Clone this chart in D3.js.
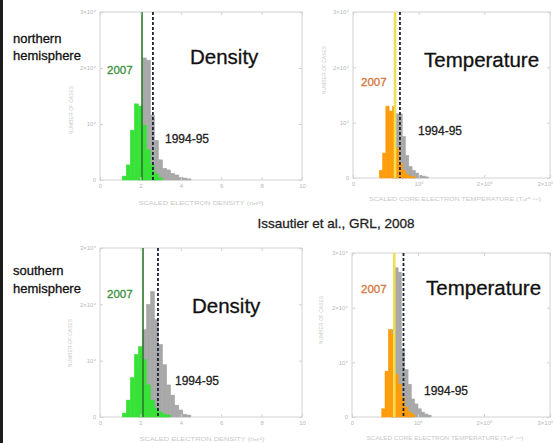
<!DOCTYPE html>
<html>
<head>
<meta charset="utf-8">
<title></title>
<script src="https://cdn.jsdelivr.net/npm/d3@7"></script>
<style>
    body { margin: 0; background: #fff; overflow: hidden; }
    svg { display: block; font-family: "Liberation Sans", Arial, sans-serif; }
</style>
</head>
<body>
<div id="chart"></div>
<script>
    // histogram bin starts
    var densityBins = [1.1, 1.3, 1.5, 1.7, 1.9, 2.1, 2.3, 2.5, 2.7, 2.9, 3.1, 3.3, 3.5, 3.7, 3.9, 4.1, 4.3];
    var densityBinWidth = 0.2;
    var tempBins = [40000, 45000, 50000, 55000, 60000, 65000, 70000, 75000, 80000, 85000, 90000, 95000, 100000, 105000, 110000, 115000];
    var tempBinWidth = 5000;

    // number of cases per bin
    var northDensity2007 = [700, 2700, 8900, 13600, 13200, 9800, 5400, 2700, 1100, 400, 0, 0, 0, 0, 0, 0, 0];
    var northDensity1994 = [0, 0, 0, 0, 2000, 21800, 21400, 11600, 7100, 3600, 2100, 1800, 1200, 900, 500, 350, 200];
    var southDensity2007 = [700, 3000, 7000, 11100, 12500, 10200, 5700, 3000, 1600, 900, 500, 350, 0, 0, 0, 0, 0];
    var southDensity1994 = [0, 0, 0, 0, 8400, 15500, 20000, 22300, 17300, 12900, 9300, 5700, 3900, 2100, 1250, 500, 350];

    var northTemp2007 = [1400, 4500, 13000, 12100, 12900, 5400, 2700, 1400, 700, 350, 200, 0, 0, 0, 0, 0];
    var northTemp1994 = [0, 0, 0, 0, 5000, 11600, 11600, 7500, 4100, 2100, 1400, 900, 500, 350, 200, 0];
    var southTemp2007 = [0, 1500, 8400, 16000, 15100, 7800, 6000, 3600, 1800, 900, 550, 0, 0, 0, 0, 0];
    var southTemp1994 = [0, 0, 0, 0, 16000, 27300, 26500, 12400, 8700, 6000, 3300, 2400, 1500, 900, 550, 350];

    // mean values [north, south]
    var densityMean2007 = [2.08, 2.13];
    var densityMean1994 = [2.62, 2.87];
    var tempMean2007 = [64000, 64000];
    var tempMean1994 = [71500, 78000];

    // axes
    var densityTicks = [0, 2, 4, 6, 8, 10];
    var densityTickLabels = ["0", "2", "4", "6", "8", "10"];
    var tempTicks = [0, 100000, 200000, 300000];
    var tempTickLabels = ["0", "10\u2075", "2\u00d710\u2075", "3\u00d710\u2075"];
    var countTicks = [0, 10000, 20000, 30000];
    var countTickLabels = ["0", "10\u2074", "2\u00d710\u2074", "3\u00d710\u2074"];

    var W = 553, H = 443;
    var svg = d3.select("#chart").append("svg").attr("width", W).attr("height", H);
    svg.append("rect").attr("width", W).attr("height", H).attr("fill", "#fff");
    svg.append("rect").attr("x", 0).attr("y", 0).attr("width", 3).attr("height", H).attr("fill", "#1c1c1c");

    function drawPanel(p)
    {
        var x = d3.scaleLinear().domain(p.domain).range([p.x0, p.x1]);
        var y = d3.scaleLinear().domain([0, 30000]).range([p.y1, p.y0]);
        var g = svg.append("g");

        // frame
        g.append("rect").attr("x", p.x0).attr("y", p.y0)
            .attr("width", p.x1 - p.x0).attr("height", p.y1 - p.y0)
            .attr("fill", "none").attr("stroke", "#d2d2d2").attr("stroke-width", 1);

        // 1994-95 behind, 2007 in front
        function bars(vals, color)
        {
            var gb = g.append("g");
            p.bins.forEach(function (b, i)
            {
                if (vals[i] > 0)
                    gb.append("rect").attr("x", x(b)).attr("y", y(vals[i]))
                        .attr("width", x(b + p.bw) - x(b)).attr("height", y(0) - y(vals[i]))
                        .attr("fill", color).attr("stroke", color).attr("stroke-width", 0.5);
            });
        }
        bars(p.old, "#a8a8a8");
        bars(p.cur, p.fill);

        // mean lines
        g.append("line").attr("x1", x(p.mCur)).attr("x2", x(p.mCur))
            .attr("y1", p.y0).attr("y2", p.y1)
            .attr("stroke", p.lineColor).attr("stroke-width", p.lineWidth);
        g.append("line").attr("x1", x(p.mOld)).attr("x2", x(p.mOld))
            .attr("y1", p.y0).attr("y2", p.y1)
            .attr("stroke", "#1e2238").attr("stroke-width", 1.8).attr("stroke-dasharray", "3,2");

        // axes
        var xa = d3.axisBottom(x).tickValues(p.ticks)
            .tickFormat(function (d, i) { return p.tickLabels[i]; })
            .tickSize(-3).tickPadding(4);
        var ya = d3.axisLeft(y).tickValues(countTicks)
            .tickFormat(function (d, i) { return countTickLabels[i]; })
            .tickSize(-3).tickPadding(4);
        var gx = g.append("g").attr("transform", "translate(0," + p.y1 + ")").call(xa);
        g.append("g").attr("transform", "translate(" + p.x0 + ",0)").call(ya);
        g.append("g").attr("transform", "translate(0," + p.y0 + ")")
            .call(d3.axisTop(x).tickValues(p.ticks).tickFormat("").tickSize(-3));
        g.append("g").attr("transform", "translate(" + p.x1 + ",0)")
            .call(d3.axisRight(y).tickValues(countTicks).tickFormat("").tickSize(-3));
        g.selectAll(".domain").remove();
        g.selectAll(".tick line").attr("stroke", "#d2d2d2");
        g.selectAll(".tick text").attr("fill", "#b8b8b8").style("font-size", "6px");
        // last label sits at the right edge of the picture
        if (p.x1 > 540) gx.selectAll(".tick:last-of-type text").attr("text-anchor", "end").attr("dx", 3);

        // axis titles
        g.append("text").attr("x", p.xtX).attr("y", p.xtY).attr("text-anchor", "middle")
            .attr("fill", "#c8c8c8").style("font-size", "5px")
            .attr("textLength", p.xtLen).attr("lengthAdjust", "spacingAndGlyphs")
            .text(p.xTitle);
        g.append("text").attr("transform", "translate(" + p.ytX + "," + p.ytY + ") rotate(-90)")
            .attr("text-anchor", "middle").attr("fill", "#c8c8c8").style("font-size", "5px")
            .text("NUMBER OF CASES");
    }

    var densityTitle = "SCALED ELECTRON DENSITY (n\u2091r\u00b2)";
    var tempTitle = "SCALED CORE ELECTRON TEMPERATURE (T\u2092r\u2070\u00b7\u2076\u2076)";

    drawPanel({ x0: 100, x1: 302, y0: 12, y1: 180, domain: [0, 10], bins: densityBins, bw: densityBinWidth,
        cur: northDensity2007, old: northDensity1994, mCur: densityMean2007[0], mOld: densityMean1994[0],
        fill: "#36e236", lineColor: "#2c7a2c", lineWidth: 1.6, ticks: densityTicks, tickLabels: densityTickLabels,
        xTitle: densityTitle, xtX: 201, xtY: 205, xtLen: 125, ytX: 73, ytY: 110 });
    drawPanel({ x0: 353, x1: 550, y0: 12, y1: 178, domain: [0, 300000], bins: tempBins, bw: tempBinWidth,
        cur: northTemp2007, old: northTemp1994, mCur: tempMean2007[0], mOld: tempMean1994[0],
        fill: "#ff9c0a", lineColor: "#f1df52", lineWidth: 2.6, ticks: tempTicks, tickLabels: tempTickLabels,
        xTitle: tempTitle, xtX: 455, xtY: 201, xtLen: 172, ytX: 326, ytY: 70 });
    drawPanel({ x0: 100, x1: 302, y0: 248, y1: 417, domain: [0, 10], bins: densityBins, bw: densityBinWidth,
        cur: southDensity2007, old: southDensity1994, mCur: densityMean2007[1], mOld: densityMean1994[1],
        fill: "#36e236", lineColor: "#2c7a2c", lineWidth: 1.6, ticks: densityTicks, tickLabels: densityTickLabels,
        xTitle: densityTitle, xtX: 202, xtY: 441, xtLen: 125, ytX: 72, ytY: 343 });
    drawPanel({ x0: 352, x1: 550, y0: 253, y1: 417, domain: [0, 300000], bins: tempBins, bw: tempBinWidth,
        cur: southTemp2007, old: southTemp1994, mCur: tempMean2007[1], mOld: tempMean1994[1],
        fill: "#ff9c0a", lineColor: "#f1df52", lineWidth: 2.6, ticks: tempTicks, tickLabels: tempTickLabels,
        xTitle: tempTitle, xtX: 445, xtY: 440, xtLen: 157, ytX: 323, ytY: 320 });

    // labels
    var labels = [
        { t: "northern", x: 13, y: 43, s: 13, c: "#111", a: "start" },
        { t: "hemisphere", x: 13, y: 60, s: 13, c: "#111", a: "start" },
        { t: "southern", x: 13, y: 275, s: 13, c: "#111", a: "start" },
        { t: "hemisphere", x: 13, y: 293, s: 13, c: "#111", a: "start" },
        { t: "Density", x: 190, y: 64, s: 20.5, c: "#111", a: "start" },
        { t: "Temperature", x: 424, y: 67, s: 20.5, c: "#111", a: "start" },
        { t: "Density", x: 192, y: 313, s: 20.5, c: "#111", a: "start" },
        { t: "Temperature", x: 426, y: 295, s: 20.5, c: "#111", a: "start" },
        { t: "2007", x: 107, y: 74, s: 11.5, c: "#3a8f3a", a: "start" },
        { t: "2007", x: 107, y: 298, s: 11.5, c: "#3a8f3a", a: "start" },
        { t: "2007", x: 361, y: 86, s: 11.5, c: "#d4753a", a: "start" },
        { t: "2007", x: 361, y: 293, s: 11.5, c: "#d4753a", a: "start" },
        { t: "1994-95", x: 165, y: 143, s: 12, c: "#222", a: "start" },
        { t: "1994-95", x: 175, y: 385, s: 12, c: "#222", a: "start" },
        { t: "1994-95", x: 418, y: 135, s: 12, c: "#222", a: "start" },
        { t: "1994-95", x: 424, y: 395, s: 12, c: "#222", a: "start" },
        { t: "Issautier et al., GRL, 2008", x: 336, y: 228, s: 13.5, c: "#222", a: "middle" }
    ];
    svg.append("g").selectAll("text").data(labels).enter().append("text")
        .attr("x", function (d) { return d.x; })
        .attr("y", function (d) { return d.y; })
        .attr("text-anchor", function (d) { return d.a; })
        .attr("fill", function (d) { return d.c; })
        .attr("stroke", function (d) { return d.c; })
        .attr("stroke-width", 0.3)
        .style("font-size", function (d) { return d.s + "px"; })
        .text(function (d) { return d.t; });
</script>
</body>
</html>
